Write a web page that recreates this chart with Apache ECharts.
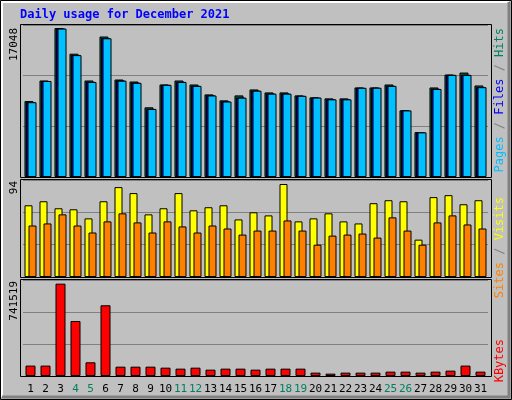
<!DOCTYPE html>
<html><head><meta charset="utf-8">
<script src="https://cdn.jsdelivr.net/npm/echarts@6/dist/echarts.min.js"></script>
<style>html,body{margin:0;padding:0;background:#c0c0c0}#c{width:512px;height:400px}</style>
</head><body><div id="c"></div>
<script>
const days = ['1','2','3','4','5','6','7','8','9','10','11','12','13','14','15','16','17','18','19','20','21','22','23','24','25','26','27','28','29','30','31'];
const weekendDays = ['4','5','11','12','18','19','25','26'];
const hits  = [8694,11047,17048,14115,11047,16082,11160,10933,7978,10592,11047,10592,9455,8774,9342,10024,9683,9683,9342,9115,9001,9001,10251,10251,10592,7637,5137,10251,11729,11956,10478];
const files = [8580,11000,17000,13980,10900,15900,11050,10800,7800,10560,10900,10450,9350,8660,9100,9900,9560,9560,9300,9100,8900,8900,10220,10230,10450,7630,5120,10100,11700,11700,10300];
const pages = [8560,10990,16990,13950,10880,15880,11030,10780,7790,10550,10880,10430,9330,8640,9080,9880,9540,9540,9290,9090,8890,8890,10210,10220,10430,7620,5110,10080,11690,11690,10280];
const visits = [69.5,73.4,66.6,65.6,56.8,73.4,87.1,81.3,60.7,66.6,81.3,64.6,67.6,69.5,55.8,62.7,59.7,90.1,53.9,56.8,61.7,53.9,51.9,71.5,74.4,73.4,36.2,77.4,79.3,70.5,74.4];
const sites = [49.9,51.9,60.7,49.9,43.1,53.9,61.7,52.9,43.1,53.9,49,43.1,49.9,47,41.1,45,45,54.8,45,31.3,40.1,41.1,42.1,38.2,57.8,45,31.3,52.9,59.7,50.9,47];
const kbytes = [83500,83500,741519,441800,110000,568000,75000,75000,75000,67000,59000,67000,51000,59000,59000,51000,59000,59000,59000,27000,19000,27000,27000,27000,35000,35000,27000,35000,43000,83500,35000];
const maxLabels = ['17048','94','741519'];

const chart = echarts.init(document.getElementById('c'));
const F = 'DejaVu Sans Mono';
const panels = [[25,152],[180,97],[280,96]];
const grids = panels.map(p=>({left:23,right:24,top:p[0],height:p[1],show:false}));
const ymax = [17400, 94, 771000];
const xAxis = [0,1,2].map(i=>({type:'category',gridIndex:i,data:days,axisLine:{show:false},axisTick:{show:false},
  axisLabel:i===2?{show:true,fontFamily:F,fontSize:11,margin:8,interval:0,
    color:(v)=>weekendDays.includes(v)?'#008060':'#000'}:{show:false}}));
const yAxis = [0,1,2].map(i=>({type:'value',gridIndex:i,min:0,max:ymax[i],interval:ymax[i]/3,
  axisLine:{show:false},axisTick:{show:false},axisLabel:{show:false},
  splitLine:{show:true,lineStyle:{color:'#808080',width:1}}}));
const st = c=>({color:c,borderColor:'#000',borderWidth:1});
const series = [
  {type:'bar',name:'Hits',data:hits,xAxisIndex:0,yAxisIndex:0,barWidth:9,barGap:'-83%',itemStyle:st('#006040'),silent:true},
  {type:'bar',name:'Files',data:files,xAxisIndex:0,yAxisIndex:0,barWidth:9,barGap:'-83%',itemStyle:st('#0000ff'),silent:true},
  {type:'bar',name:'Pages',data:pages,xAxisIndex:0,yAxisIndex:0,barWidth:9,barGap:'-83%',itemStyle:st('#00c0ff'),silent:true},
  {type:'bar',name:'Visits',data:visits,xAxisIndex:1,yAxisIndex:1,barWidth:8,barGap:'-50%',itemStyle:st('#ffff00'),silent:true},
  {type:'bar',name:'Sites',data:sites,xAxisIndex:1,yAxisIndex:1,barWidth:8,barGap:'-50%',itemStyle:st('#ff8000'),silent:true},
  {type:'bar',name:'KBytes',data:kbytes,xAxisIndex:2,yAxisIndex:2,barWidth:10,itemStyle:st('#ff0000'),silent:true}
];
const vt = (x,y,parts)=>({type:'text',x:x,y:y,rotation:Math.PI/2,style:{rich:{
  a:{fill:'#00c0ff'},b:{fill:'#0000ff'},c:{fill:'#008060'},d:{fill:'#ff8000'},e:{fill:'#ffff00'},f:{fill:'#ff0000'},g:{fill:'#808080'}},
  text:parts,font:'12px '+F,align:'right',verticalAlign:'middle'}});
const frames = panels.map(p=>({type:'rect',shape:{x:20.5,y:p[0]-0.5,width:471,height:p[1]+1},style:{fill:'none',stroke:'#000',lineWidth:1},z:10}));
const graphic = [
  {type:'rect',shape:{x:0.5,y:0.5,width:511,height:399},style:{fill:'none',stroke:'#000',lineWidth:1},z:-1},
  {type:'polyline',shape:{points:[[2,397],[2,2],[509,2]]},style:{stroke:'#fff',lineWidth:2,fill:'none'}},
  {type:'polyline',shape:{points:[[509,2],[509,397],[2,397]]},style:{stroke:'#808080',lineWidth:3,fill:'none'}},
  {type:'text',x:20,y:15,style:{text:'Daily usage for December 2021',fill:'#0000ff',font:'bold 12px '+F,verticalAlign:'middle'}},
  {type:'text',x:14,y:28,rotation:Math.PI/2,style:{text:maxLabels[0],fill:'#000',font:'11px '+F,align:'right',verticalAlign:'middle'}},
  {type:'text',x:14,y:181,rotation:Math.PI/2,style:{text:maxLabels[1],fill:'#000',font:'11px '+F,align:'right',verticalAlign:'middle'}},
  {type:'text',x:14,y:281,rotation:Math.PI/2,style:{text:maxLabels[2],fill:'#000',font:'11px '+F,align:'right',verticalAlign:'middle'}},
  vt(500,28,'{a|Pages}{g| / }{b|Files}{g| / }{c|Hits}'),
  vt(500,197,'{d|Sites}{g| / }{e|Visits}'),
  vt(500,339,'{f|KBytes}')
].concat(frames);
chart.setOption({animation:false,backgroundColor:'#c0c0c0',grid:grids,xAxis:xAxis,yAxis:yAxis,series:series,graphic:graphic});
</script></body></html>
